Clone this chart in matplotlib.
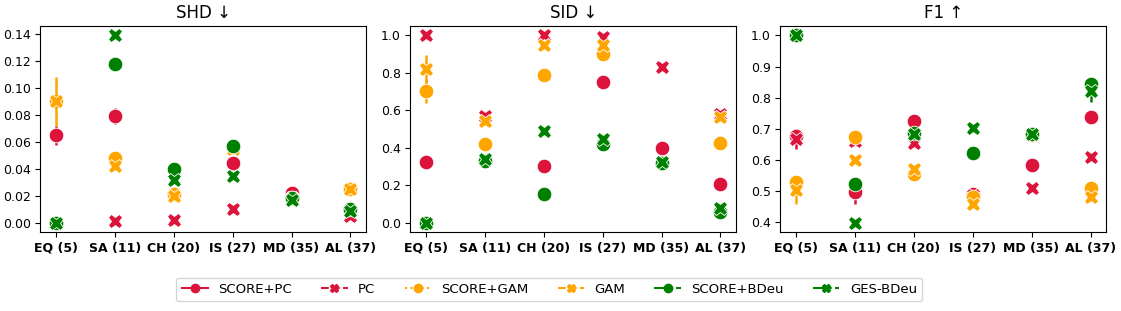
import numpy as np
import matplotlib.pyplot as plt
from matplotlib.lines import Line2D

datasets = ["EQ (5)", "SA (11)", "CH (20)", "IS (27)", "MD (35)", "AL (37)"]
methods = ["SCORE+PC", "PC", "SCORE+GAM", "GAM", "SCORE+BDeu", "GES-BDeu"]
colors = ["crimson", "crimson", "orange", "orange", "green", "green"]
markers = ["o", "X", "o", "X", "o", "X"]
lstyles = ["-", "--", ":", "--", "-.", "-."]

# SHD (normalised)
shd_score_pc = [0.065, 0.079, 0.021, 0.044, 0.022, 0.010]
shd_pc = [0.000, 0.001, 0.002, 0.010, 0.018, 0.005]
shd_score_gam = [0.090, 0.048, 0.021, 0.056, 0.018, 0.025]
shd_gam = [0.090, 0.042, 0.020, 0.055, 0.017, 0.025]
shd_score_bdeu = [0.000, 0.118, 0.040, 0.057, 0.018, 0.010]
shd_ges = [0.000, 0.139, 0.032, 0.035, 0.017, 0.009]
shd_err = {0: [0.007, 0.006, 0, 0, 0, 0], 3: [0.018, 0, 0, 0, 0, 0]}

# SID (normalised)
sid_score_pc = [0.325, 0.330, 0.300, 0.750, 0.400, 0.205]
sid_pc = [1.000, 0.570, 1.000, 0.990, 0.830, 0.580]
sid_score_gam = [0.705, 0.420, 0.790, 0.900, 0.320, 0.428]
sid_gam = [0.820, 0.545, 0.950, 0.950, 0.320, 0.565]
sid_score_bdeu = [0.000, 0.330, 0.155, 0.420, 0.320, 0.055]
sid_ges = [0.000, 0.340, 0.490, 0.445, 0.325, 0.080]
sid_err = {0: [0.035, 0, 0, 0, 0, 0], 2: [0.065, 0, 0, 0, 0, 0], 3: [0.075, 0, 0, 0, 0, 0]}

# F1
f1_score_pc = [0.675, 0.495, 0.725, 0.490, 0.582, 0.737]
f1_pc = [0.665, 0.660, 0.655, 0.485, 0.508, 0.607]
f1_score_gam = [0.527, 0.673, 0.553, 0.480, 0.680, 0.510]
f1_gam = [0.503, 0.600, 0.570, 0.458, 0.680, 0.480]
f1_score_bdeu = [1.000, 0.523, 0.685, 0.620, 0.683, 0.845]
f1_ges = [1.000, 0.397, 0.683, 0.703, 0.683, 0.820]
f1_err = {0: [0.025, 0.038, 0, 0, 0, 0], 1: [0.030, 0, 0, 0, 0, 0],
          3: [0.045, 0, 0, 0, 0, 0], 5: [0, 0, 0, 0, 0, 0.035]}

panels = [
    ("SHD ↓", [shd_score_pc, shd_pc, shd_score_gam, shd_gam, shd_score_bdeu, shd_ges], shd_err),
    ("SID ↓", [sid_score_pc, sid_pc, sid_score_gam, sid_gam, sid_score_bdeu, sid_ges], sid_err),
    ("F1 ↑", [f1_score_pc, f1_pc, f1_score_gam, f1_gam, f1_score_bdeu, f1_ges], f1_err),
]

fig, axes = plt.subplots(1, 3, figsize=(11.21, 3.11), dpi=100)
x = np.arange(len(datasets))

for ax, (title, series, errs) in zip(axes, panels):
    for i, vals in enumerate(series):
        err = errs.get(i)
        ax.errorbar(x, vals, yerr=err, fmt=markers[i], color=colors[i],
                    ecolor=colors[i], elinewidth=1.8, markersize=10.5,
                    markeredgecolor="white", markeredgewidth=0.6, zorder=3 + i)
    ax.set_title(title, fontsize=12)
    ax.set_xticks(x)
    ax.set_xticklabels(datasets, fontweight="bold", fontsize=9)
    ax.tick_params(axis="y", labelsize=9)
    ax.set_xlim(-0.26, 5.27)

handles = [Line2D([0], [0], color=colors[i], marker=markers[i], linestyle=lstyles[i],
                  markersize=6, linewidth=1.5) for i in range(len(methods))]
fig.legend(handles, methods, loc="lower center", ncol=6, fontsize=9.5,
           bbox_to_anchor=(0.49, 0.01), columnspacing=2.2)

plt.subplots_adjust(left=0.036, right=0.987, top=0.916, bottom=0.254, wspace=0.135)
plt.savefig("out.png")
plt.close()
